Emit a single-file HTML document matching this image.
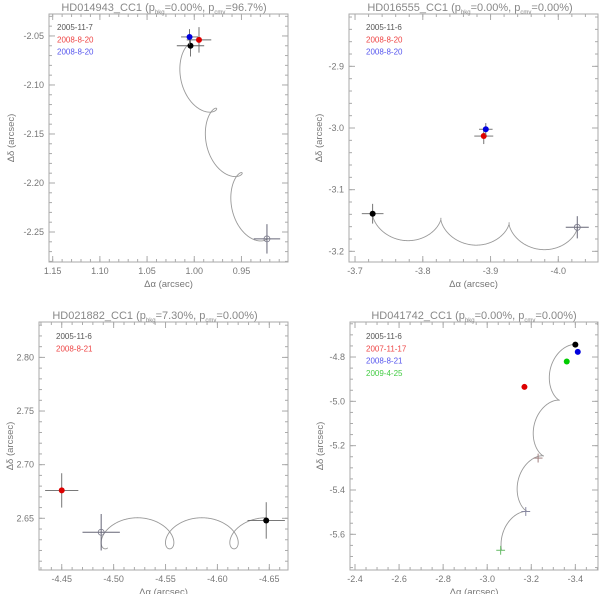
<!DOCTYPE html>
<html><head><meta charset="utf-8"><style>
html,body{margin:0;padding:0;background:#fff;}
svg{display:block;font-family:"Liberation Sans",sans-serif;}
</style></head><body>
<svg id="fig" width="600" height="594" viewBox="0 0 600 594" xmlns="http://www.w3.org/2000/svg"></svg>
<script>
// ---------- Panel 1: HD014943 ----------
const p1Dates=['2005-11-7','2008-8-20','2008-8-20'];
const p1X=[1.004,0.995,1.005];
const p1Y=[-2.060,-2.054,-2.051];
const p1Ex=[0.0145,0.013,0.009];
const p1Ey=[0.011,0.013,0.008];
const p1PredX=[0.923];
const p1PredY=[-2.257];
const p1PredEx=[0.014];
const p1PredEy=[0.015];
const p1Model=[1.016,-2.060,-0.027,-0.0657,-0.012,0.0145,0,3.0];
const p1XTicks=[1.15,1.10,1.05,1.00,0.95];
const p1YTicks=[-2.05,-2.10,-2.15,-2.20,-2.25];
// ---------- Panel 2: HD016555 ----------
const p2Dates=['2005-11-6','2008-8-20','2008-8-20'];
const p2X=[-3.726,-3.890,-3.893];
const p2Y=[-3.139,-3.013,-3.002];
const p2Ex=[0.016,0.014,0.010];
const p2Ey=[0.016,0.013,0.010];
const p2PredX=[-4.028];
const p2PredY=[-3.161];
const p2PredEx=[0.017];
const p2PredEy=[0.018];
const p2Model=[-3.726,-3.159,-0.1007,-0.0073,-0.0165,0.020,Math.PI/2,3.0];
const p2XTicks=[-3.7,-3.8,-3.9,-4.0];
const p2YTicks=[-2.9,-3.0,-3.1,-3.2];
// ---------- Panel 3: HD021882 ----------
const p3Dates=['2005-11-6','2008-8-21'];
const p3X=[-4.647,-4.450];
const p3Y=[2.648,2.676];
const p3Ex=[0.018,0.016];
const p3Ey=[0.017,0.016];
const p3PredX=[-4.488];
const p3PredY=[2.637];
const p3PredEx=[0.018];
const p3PredEy=[0.017];
const p3Model=[-4.647,2.636,0.062,0,-0.0165,0.0145,Math.PI/2,2.56];
const p3XTicks=[-4.45,-4.50,-4.55,-4.60,-4.65];
const p3YTicks=[2.65,2.70,2.75,2.80];
// ---------- Panel 4: HD041742 ----------
const p4Dates=['2005-11-6','2007-11-17','2008-8-21','2009-4-25'];
const p4X=[-3.400,-3.169,-3.411,-3.361];
const p4Y=[-4.744,-4.935,-4.777,-4.820];
const p4Ex=[0.006,0.006,0.006,0.006];
const p4Ey=[0.006,0.006,0.006,0.006];
const p4PredX=[-3.231,-3.175,-3.061];
const p4PredY=[-5.256,-5.497,-5.672];
const p4PredEx=[0.02,0.02,0.02];
const p4PredEy=[0.02,0.02,0.02];
const p4Model=[-3.360,-4.744,0.073,-0.251,-0.040,0.042,0,3.6];
const p4XTicks=[-2.4,-2.6,-2.8,-3.0,-3.2,-3.4];
const p4YTicks=[-4.8,-5.0,-5.2,-5.4,-5.6];

const NS='http://www.w3.org/2000/svg';
const svg=document.getElementById('fig');
function mk(tag,attrs,parent){const e=document.createElementNS(NS,tag);for(const k in attrs)e.setAttribute(k,attrs[k]);(parent||svg).appendChild(e);return e;}

const dotCols=['#000000','#dd0000','#0000dd','#00cc00'];
const legCols=['#555555','#ee4444','#5555ee','#44cc44'];
const predCols=['#a08080','#8888a0','#66bb66'];

function panel(cfg){
  const g=mk('g',{});
  
  
  const [L,T,R,B]=cfg.box;
  const xs=v=>L+(v-cfg.xd[0])/(cfg.xd[1]-cfg.xd[0])*(R-L);
  const ys=v=>T+(v-cfg.yd[0])/(cfg.yd[1]-cfg.yd[0])*(B-T);
  const frame=mk('rect',{x:L,y:T,width:R-L,height:B-T,fill:'none',stroke:'#aaa',"stroke-width":1},g);
  
  
  const lo=Math.min(cfg.xd[0],cfg.xd[1]),hi=Math.max(cfg.xd[0],cfg.xd[1]);
  for(let v=Math.ceil(lo/cfg.xm-1e-6)*cfg.xm;v<=hi+1e-9;v+=cfg.xm){const x=xs(v);
    mk('line',{x1:x,y1:B,x2:x,y2:B-3,stroke:'#aaa'},g);mk('line',{x1:x,y1:T,x2:x,y2:T+3,stroke:'#aaa'},g);}
  const ylo=Math.min(cfg.yd[0],cfg.yd[1]),yhi=Math.max(cfg.yd[0],cfg.yd[1]);
  for(let v=Math.ceil(ylo/cfg.ym-1e-6)*cfg.ym;v<=yhi+1e-9;v+=cfg.ym){const y=ys(v);
    mk('line',{x1:L,y1:y,x2:L+3,y2:y,stroke:'#aaa'},g);mk('line',{x1:R,y1:y,x2:R-3,y2:y,stroke:'#aaa'},g);}
  cfg.xt.forEach(v=>{const x=xs(v);
    mk('line',{x1:x,y1:B,x2:x,y2:B-6,stroke:'#aaa'},g);mk('line',{x1:x,y1:T,x2:x,y2:T+6,stroke:'#aaa'},g);
    const t=mk('text',{x:x,y:B+12,"text-anchor":"middle","font-size":9,fill:'#777'},g);t.textContent=v.toFixed(cfg.xdec);
    
    });
  cfg.yt.forEach(v=>{const y=ys(v);
    mk('line',{x1:L,y1:y,x2:L+6,y2:y,stroke:'#aaa'},g);mk('line',{x1:R,y1:y,x2:R-6,y2:y,stroke:'#aaa'},g);
    const t=mk('text',{x:L-5,y:y+3,"text-anchor":"end","font-size":9,fill:'#777'},g);t.textContent=v.toFixed(cfg.ydec);
    
    });
  const xt=mk('text',{x:(L+R)/2,y:B+25,"text-anchor":"middle","font-size":9.5,fill:'#777'},g);xt.textContent='Δα (arcsec)';
  
  
  const yx=cfg.ylx,yy=(T+B)/2;
  const yt=mk('text',{x:yx,y:yy,"text-anchor":"middle","font-size":9.5,fill:'#777',transform:`rotate(-90 ${yx} ${yy})`},g);yt.textContent='Δδ (arcsec)';
  
  
  const tt=mk('text',{x:cfg.tx,y:cfg.ty,"text-anchor":"middle","font-size":11,fill:'#888'},g);
  
  
  const parts=[[cfg.star+' (p',0,0],['bkg',1,3],['='+cfg.pb+', p',0,-3],['cmv',1,3],['='+cfg.pc+')',0,-3]];
  parts.forEach(([s,sub,dy])=>{const sp=mk('tspan',{"font-size":sub?6:11,dy:dy},tt);sp.textContent=s;});
  const m=cfg.model;let d='';
  const N=800;
  for(let i=0;i<=N;i++){const t=m[7]*i/N;const a=2*Math.PI*t+m[6];
    const px=m[0]+m[2]*t+m[4]*Math.cos(a), py=m[1]+m[3]*t+m[5]*Math.sin(a);
    d+=(i?'L':'M')+xs(px).toFixed(2)+' '+ys(py).toFixed(2);}
  const cv=mk('path',{d:d,fill:'none',stroke:'#999',"stroke-width":0.9},g);
  
  
  cfg.px.forEach((v,i)=>{const x=xs(v),y=ys(cfg.py[i]);const ex=Math.abs(xs(v+cfg.pex[i])-x),ey=Math.abs(ys(cfg.py[i]+cfg.pey[i])-y);
    const col=cfg.predCol?cfg.predCol[i]:'#667';
    const pg=mk('g',{},g);
    
    
    mk('line',{x1:x-ex,y1:y,x2:x+ex,y2:y,stroke:col,"stroke-width":1},pg);
    mk('line',{x1:x,y1:y-ey,x2:x,y2:y+ey,stroke:col,"stroke-width":1},pg);
    if(cfg.circ)mk('circle',{cx:x,cy:y,r:3,fill:'none',stroke:'#778',"stroke-width":0.8},pg);});
  cfg.x.forEach((v,i)=>{const x=xs(v),y=ys(cfg.y[i]);const ex=Math.abs(xs(v+cfg.ex[i])-x),ey=Math.abs(ys(cfg.y[i]+cfg.ey[i])-y);
    const og=mk('g',{},g);
    
    
    mk('line',{x1:x-ex,y1:y,x2:x+ex,y2:y,stroke:'#666',"stroke-width":0.9},og);
    mk('line',{x1:x,y1:y-ey,x2:x,y2:y+ey,stroke:'#666',"stroke-width":0.9},og);
    mk('circle',{cx:x,cy:y,r:3,fill:dotCols[i]},og);});
  cfg.dates.forEach((s,i)=>{const t=mk('text',{x:cfg.lx,y:cfg.ly+i*12.3,"font-size":8,fill:legCols[i]},g);t.textContent=s;
    
    });
}

panel({name:'panel-hd014943',box:[49,14,288,262],xd:[1.1539,0.9007],yd:[-2.0276,-2.2806],xm:0.01,ym:0.01,
  xt:p1XTicks,yt:p1YTicks,xdec:2,ydec:2,ylx:14,tx:164,ty:11,star:'HD014943_CC1',pb:'0.00%',pc:'96.7%',
  model:p1Model,x:p1X,y:p1Y,ex:p1Ex,ey:p1Ey,px:p1PredX,py:p1PredY,pex:p1PredEx,pey:p1PredEy,circ:true,
  dates:p1Dates,lx:57,ly:30});
panel({name:'panel-hd016555',box:[349,14,598,262],xd:[-3.6911,-4.0586],yd:[-2.8151,-3.2173],xm:0.02,ym:0.02,
  xt:p2XTicks,yt:p2YTicks,xdec:1,ydec:1,ylx:322,tx:470,ty:11,star:'HD016555_CC1',pb:'0.00%',pc:'0.00%',
  model:p2Model,x:p2X,y:p2Y,ex:p2Ex,ey:p2Ey,px:p2PredX,py:p2PredY,pex:p2PredEx,pey:p2PredEy,circ:true,
  dates:p2Dates,lx:366,ly:30});
panel({name:'panel-hd021882',box:[39,322,288,570],xd:[-4.4281,-4.668],yd:[2.833,2.6018],xm:0.01,ym:0.01,
  xt:p3XTicks,yt:p3YTicks,xdec:2,ydec:2,ylx:13,tx:155,ty:319,star:'HD021882_CC1',pb:'7.30%',pc:'0.00%',
  model:p3Model,x:p3X,y:p3Y,ex:p3Ex,ey:p3Ey,px:p3PredX,py:p3PredY,pex:p3PredEx,pey:p3PredEy,circ:true,
  dates:p3Dates,lx:56,ly:339});
panel({name:'panel-hd041742',box:[350,322,598,570],xd:[-2.3773,-3.5028],yd:[-4.642,-5.761],xm:0.05,ym:0.05,
  xt:p4XTicks,yt:p4YTicks,xdec:1,ydec:1,ylx:323,tx:474,ty:319,star:'HD041742_CC1',pb:'0.00%',pc:'0.00%',
  model:p4Model,x:p4X,y:p4Y,ex:p4Ex,ey:p4Ey,px:p4PredX,py:p4PredY,pex:p4PredEx,pey:p4PredEy,circ:false,predCol:predCols,
  dates:p4Dates,lx:366,ly:339});
</script>
</body></html>
